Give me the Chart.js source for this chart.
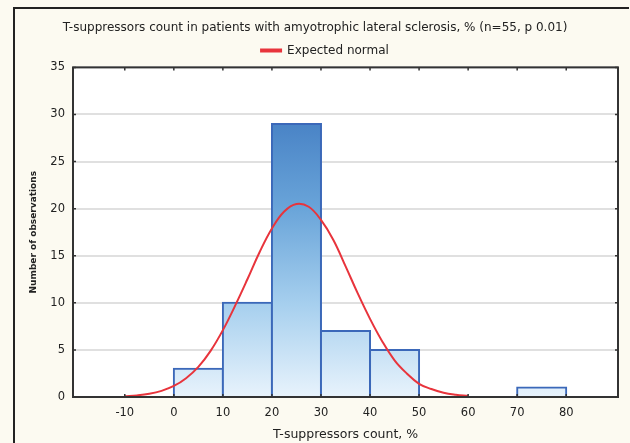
<!DOCTYPE html>
<html>
<head>
<meta charset="utf-8">
<script src="https://cdn.jsdelivr.net/npm/chart.js@4.4.0/dist/chart.umd.min.js"></script>
<style>
  html, body { margin: 0; padding: 0; background: #fcfaf1; overflow: hidden; }
  canvas { display: block; }
</style>
</head>
<body>
<canvas id="chart" width="630" height="443"></canvas>
<script>
/* histogram bins (centre of each 10-wide class) and counts */
const binCenters = [5, 15, 25, 35, 45, 75];
const binCounts  = [3, 10, 29, 7, 5, 1];

/* expected normal curve */
const curveX = [-10, -7.5, -5, -2.5, 0, 2.5, 5, 7.5, 10, 12.5, 15, 17.5, 20, 22.5, 25,
                27.5, 30, 32.5, 35, 37.5, 40, 42.5, 45, 47.5, 50, 52.5, 55, 57.5, 60];
const curveY = [0.08, 0.17, 0.34, 0.65, 1.17, 2.0, 3.2, 4.9, 7.1, 9.7, 12.5, 15.4, 17.9, 19.7, 20.5,
                20.2, 18.8, 16.7, 13.9, 11.0, 8.3, 5.9, 3.9, 2.5, 1.4, 0.85, 0.45, 0.24, 0.12];

/* tick labels */
const xTicks = [-10, 0, 10, 20, 30, 40, 50, 60, 70, 80];
const yTicks = [0, 5, 10, 15, 20, 25, 30, 35];

const FONT = 'DejaVu Sans';
const TXT = '#222';

/* gradient of the bars, fixed to the plot area */
function barFill(ctx) {
  const chart = ctx.chart;
  const a = chart.chartArea;
  if (!a) return '#8fbfe8';
  const y = chart.scales.y;
  const g = chart.ctx.createLinearGradient(0, a.bottom, 0, y.getPixelForValue(30));
  g.addColorStop(0, '#e8f3fc');
  g.addColorStop(0.33, '#a6cfee');
  g.addColorStop(0.67, '#69a4d9');
  g.addColorStop(1, '#4680c4');
  return g;
}

/* cream page, outer frame (left and top only), white plot area */
const backPlugin = {
  id: 'back',
  beforeDraw(chart) {
    const { ctx, chartArea: a } = chart;
    ctx.save();
    ctx.fillStyle = '#fcfaf1';
    ctx.fillRect(0, 0, chart.width, chart.height);
    ctx.strokeStyle = '#222';
    ctx.lineWidth = 2;
    ctx.beginPath();
    ctx.moveTo(14, chart.height);
    ctx.lineTo(14, 8);
    ctx.lineTo(chart.width - 1, 8);
    ctx.stroke();
    ctx.fillStyle = '#ffffff';
    ctx.fillRect(a.left, a.top, a.right - a.left, a.bottom - a.top);
    ctx.restore();
  }
};

/* plot box with small inward ticks */
const boxPlugin = {
  id: 'box',
  afterDatasetsDraw(chart) {
    const { ctx, chartArea: a, scales } = chart;
    ctx.save();
    ctx.strokeStyle = '#333';
    ctx.lineWidth = 2;
    ctx.strokeRect(a.left, a.top, a.right - a.left, a.bottom - a.top);
    ctx.lineWidth = 1.5;
    ctx.beginPath();
    xTicks.forEach(v => {
      const px = scales.x.getPixelForValue(v);
      ctx.moveTo(px, a.bottom); ctx.lineTo(px, a.bottom - 3);
      ctx.moveTo(px, a.top); ctx.lineTo(px, a.top + 3);
    });
    yTicks.forEach(v => {
      const py = scales.y.getPixelForValue(v);
      ctx.moveTo(a.left, py); ctx.lineTo(a.left + 3, py);
      ctx.moveTo(a.right, py); ctx.lineTo(a.right - 3, py);
    });
    ctx.stroke();
    ctx.restore();
  }
};

/* legend with fixed height; title and legend centred like the original */
const placePlugin = {
  id: 'place',
  beforeLayout(chart) {
    const lg = chart.legend;
    if (lg && !lg._wrapped) {
      const fit = lg.fit;
      lg.fit = function () { fit.call(this); this.height = 28; };
      lg._wrapped = true;
    }
  },
  afterLayout(chart) {
    chart.legend.left = 20;
    chart.legend.right = 630;
    chart.titleBlock.left = 0;
    chart.titleBlock.right = 630;
  }
};

new Chart(document.getElementById('chart'), {
  type: 'bar',
  data: {
    datasets: [
      {
        type: 'line',
        label: 'Expected normal',
        data: curveX.map((x, i) => ({ x, y: curveY[i] })),
        borderColor: '#e8343c',
        backgroundColor: '#e8343c',
        borderWidth: 2,
        pointRadius: 0,
        tension: 0.4,
        order: 0,
      },
      {
        label: 'Observed',
        data: binCenters.map((x, i) => ({ x, y: binCounts[i] })),
        backgroundColor: barFill,
        borderColor: '#3b68b9',
        borderWidth: 2,
        inflateAmount: 1,
        barPercentage: 1,
        categoryPercentage: 1,
        order: 1,
      },
    ],
  },
  options: {
    responsive: false,
    animation: false,
    layout: { padding: { left: 0, right: 12, top: 0, bottom: 0 } },
    plugins: {
      tooltip: { enabled: false },
      title: {
        display: true,
        text: 'T-suppressors count in patients with amyotrophic lateral sclerosis, % (n=55, p 0.01)',
        color: TXT,
        font: { family: FONT, size: 12, weight: 'normal' },
        padding: { top: 21, bottom: 4 },
      },
      legend: {
        display: true,
        labels: {
          filter: item => item.datasetIndex === 0,
          color: TXT,
          font: { family: FONT, size: 12 },
          boxWidth: 20,
          boxHeight: 2,
          padding: 5,
        },
      },
    },
    scales: {
      x: {
        type: 'linear',
        min: -15,
        max: 85,
        afterBuildTicks: s => { s.ticks = xTicks.map(v => ({ value: v })); },
        afterFit: s => { s.height = 46; },
        grid: { drawOnChartArea: false, drawTicks: false },
        border: { display: false },
        ticks: { color: TXT, font: { family: FONT, size: 11.5 }, padding: 9, maxRotation: 0 },
        title: {
          display: true,
          text: 'T-suppressors count, %',
          color: TXT,
          font: { family: FONT, size: 12.5 },
          padding: 1,
        },
      },
      y: {
        min: 0,
        max: 35,
        afterBuildTicks: s => { s.ticks = yTicks.map(v => ({ value: v })); },
        afterFit: s => { s.width = 73; },
        grid: { color: '#e0e0e0', lineWidth: 2, drawTicks: false },
        border: { display: false },
        ticks: { color: TXT, font: { family: FONT, size: 11.5 }, padding: 8 },
        title: {
          display: true,
          text: 'Number of observations',
          color: TXT,
          font: { family: FONT, size: 9, weight: 'bold' },
          padding: 28,
        },
      },
    },
  },
  plugins: [backPlugin, boxPlugin, placePlugin],
});
</script>
</body>
</html>
